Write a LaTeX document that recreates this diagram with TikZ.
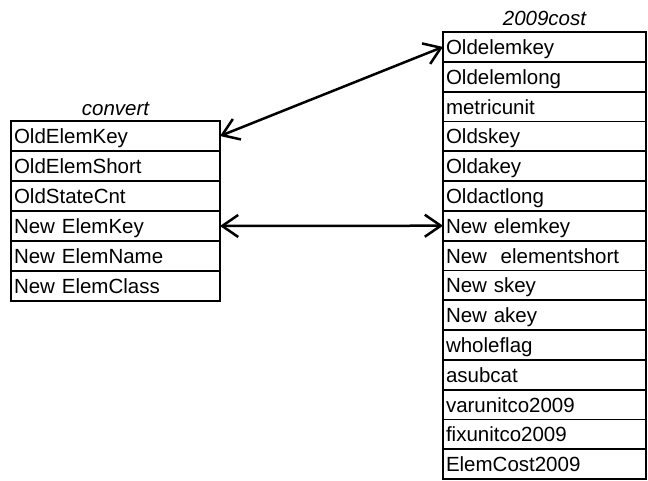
\documentclass[tikz,border=0pt]{standalone}
\usepackage{fontspec}
\setmainfont{Liberation Sans}
\usetikzlibrary{arrows.meta}
\newcommand\rowfont{\fontsize{20.5pt}{24pt}\selectfont}
\tikzset{
  fld/.style={draw, line width=1.8pt, rectangle, anchor=north west, outer sep=0pt,
    inner xsep=3pt, inner ysep=0pt, minimum height=30pt, text height=15pt,
    text depth=0pt, align=left, font=\rowfont},
  fldL/.style={fld, text width=203pt},
  fldR/.style={fld, text width=197pt, minimum height=29.8pt},
  ttl/.style={anchor=base, font=\rowfont\itshape, inner sep=0pt},
  rel/.style={line width=2.5pt, {Straight Barb[length=16pt,width=22pt]}-{Straight Barb[length=16pt,width=22pt]}}
}
\begin{document}
\begin{tikzpicture}[x=1pt,y=-1pt]
\useasboundingbox (0,0) rectangle (648,480);
\node[ttl] (tc) at (115.5,115) {convert};
\node[ttl] (tr) at (544.5,25) {2009cost};
\foreach \t [count=\i] in {OldElemKey,OldElemShort,OldStateCnt,New ElemKey,New ElemName,New ElemClass}
  \node[fldL] (c\i) at (11,{121+30*(\i-1)}) {\t};
\foreach \t [count=\i] in {Oldelemkey,Oldelemlong,metricunit,Oldskey,Oldakey,Oldactlong,New elemkey,New~~elementshort,New skey,New akey,wholeflag,asubcat,varunitco2009,fixunitco2009,ElemCost2009}
  \node[fldR] (r\i) at (443,{32+29.8*(\i-1)}) {\t};
\draw[rel] (c1.east) -- (r1.west);
\draw[rel] (c4.east) -- (r7.west);
\end{tikzpicture}
\end{document}
